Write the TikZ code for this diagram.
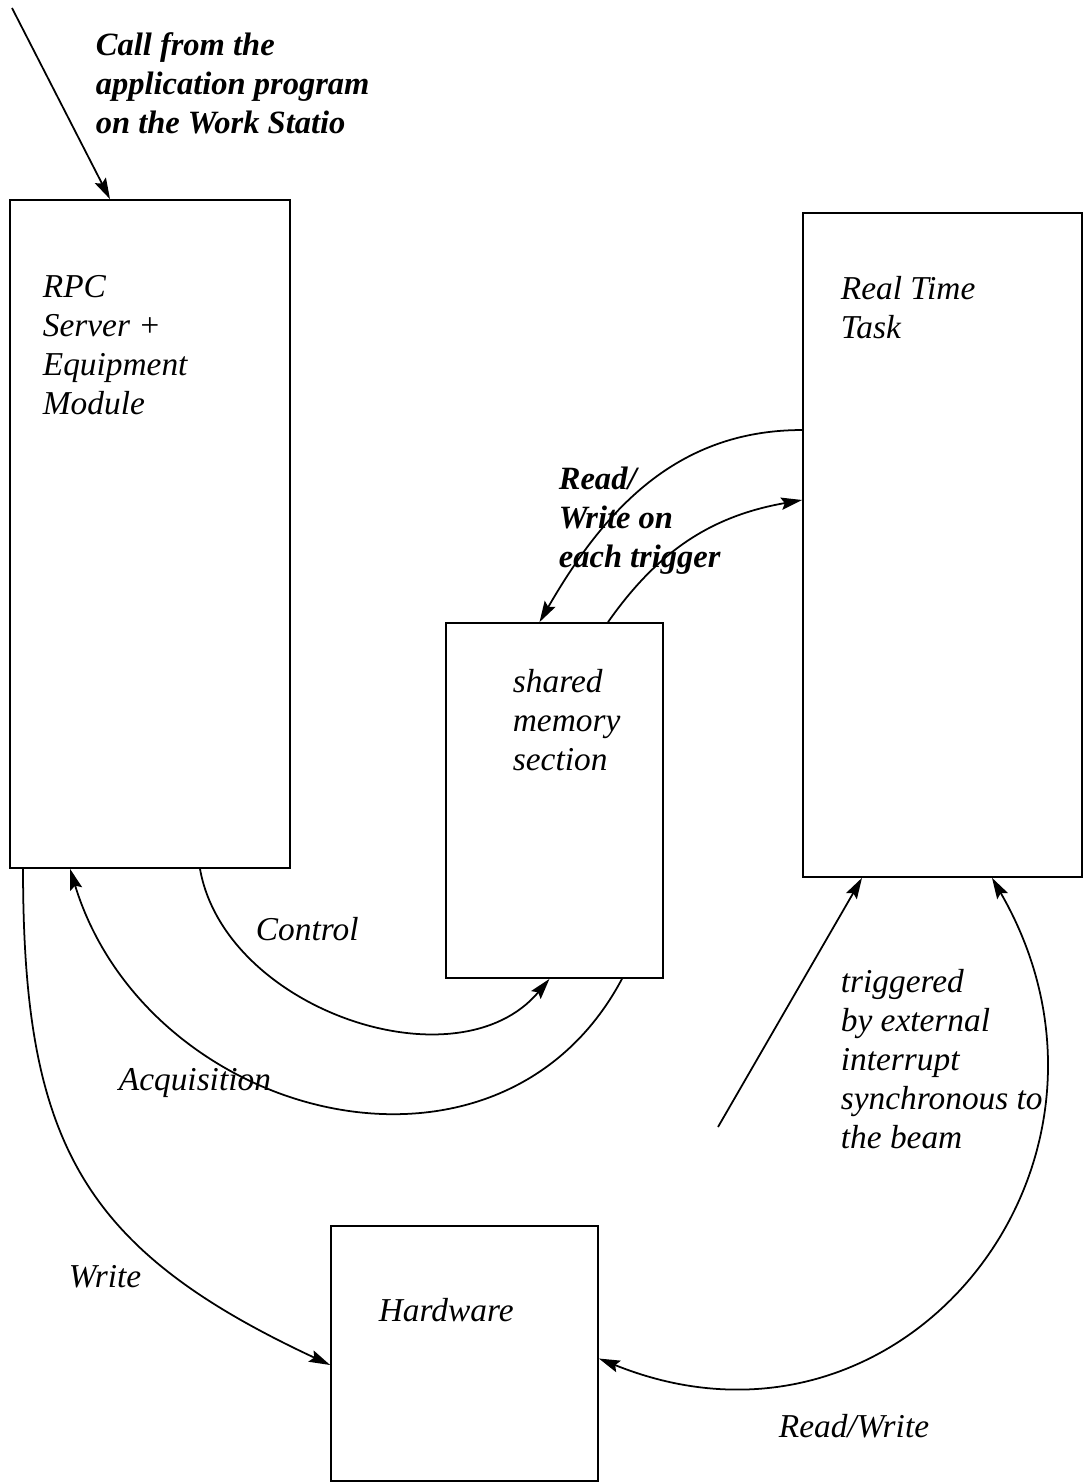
\documentclass[tikz,border=0pt]{standalone}
\usepackage{fontspec}
\setmainfont{Liberation Serif}
\usetikzlibrary{arrows.meta}
\begin{document}
\begin{tikzpicture}[x=0.02cm,y=-0.02cm,>={Stealth[length=12pt,width=7pt,inset=2pt]},line width=1pt,
  every node/.style={font=\fontsize{19}{22.2}\selectfont\itshape},
  box/.style={draw,inner sep=0pt}, lbl/.style={anchor=north west,align=left,inner sep=0pt}]
\useasboundingbox (0,0) rectangle (1084,1483);
\node[box,minimum width=5.6cm,minimum height=13.36cm] (rpc) at (150,534) {};
\node[box,minimum width=5.58cm,minimum height=13.28cm] (rtt) at (942.5,545) {};
\node[box,minimum width=4.34cm,minimum height=7.1cm] (shm) at (554.5,800.5) {};
\node[box,minimum width=5.34cm,minimum height=5.1cm] (hw) at (464.5,1353.5) {};
\node[lbl] (rpcl) at (42,275) {RPC\\Server +\\Equipment\\Module};
\node[lbl] (rttl) at (840,275) {Real Time\\Task};
\node[lbl] (shml) at (512,668) {shared\\memory\\section};
\node[lbl] (hwl) at (378,1297) {Hardware};
\node[lbl,font=\fontsize{18.5}{22.2}\selectfont\bfseries\itshape] (call) at (95,32) {Call from the\\application program\\on the Work Statio};
\node[lbl,font=\fontsize{18.5}{22.2}\selectfont\bfseries\itshape] (rwl) at (558,466) {Read/\\Write on\\each trigger};
\node[lbl] (ctl) at (255,916) {Control};
\node[lbl] (acq) at (118,1068) {Acquisition};
\node[lbl] (trig) at (840,968) {triggered\\by external\\interrupt\\synchronous to\\the beam};
\node[lbl] (wr) at (68,1265) {Write};
\node[lbl] (rwhw) at (778,1413) {Read/Write};
% calls and triggers
\coordinate (ws) at (12,8); \coordinate (irq) at (718,1127);
\draw[->] (ws) -- ([xshift=-0.8cm]rpc.north);
\draw[->] (irq) -- ([xshift=-1.61cm]rtt.south);
% shared memory traffic
\draw[->] ([yshift=2.3cm]rtt.west) to[out=180,in=60] ([xshift=-0.3cm]shm.north);
\draw[->] ([xshift=1.07cm]shm.north) to[out=55,in=190] ([yshift=0.9cm]rtt.west);
\draw[->] ([xshift=1cm]rpc.south) to[out=-80,in=-130] ([xshift=-0.1cm]shm.south);
\draw[->] ([xshift=1.35cm]shm.south) to[out=-118,in=-73,looseness=1.2] ([xshift=-1.6cm]rpc.south);
% hardware
\draw[->] ([xshift=-2.54cm]rpc.south) to[out=-90,in=155,looseness=1.2] ([yshift=-0.23cm]hw.west);
\draw[<->] ([xshift=0.99cm]rtt.south) to[out=-60,in=-22,looseness=1.35] ([yshift=-0.1cm]hw.east);
\end{tikzpicture}
\end{document}
